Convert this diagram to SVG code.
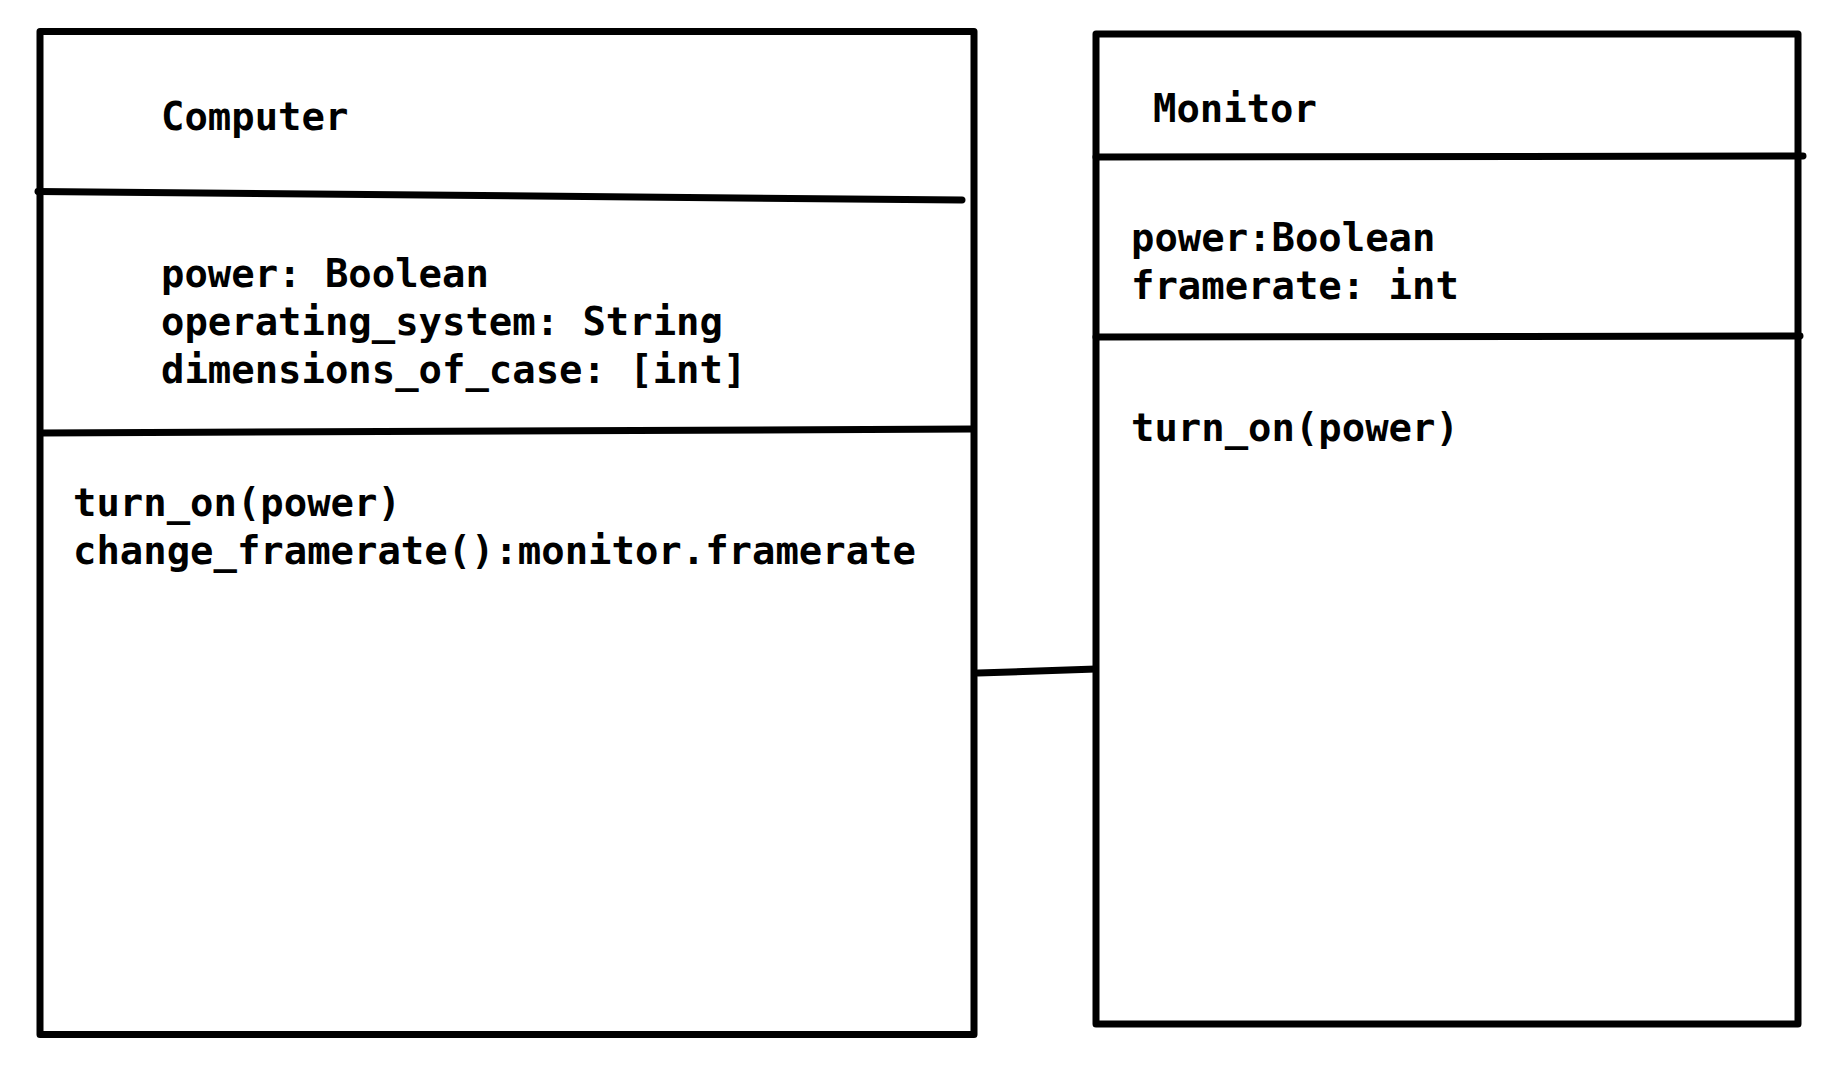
<svg xmlns="http://www.w3.org/2000/svg" width="1834" height="1076" viewBox="0 0 1834 1076">
<style>
.box{fill:#fff;stroke:#000;stroke-width:7;stroke-linejoin:round}
.ln{fill:none;stroke:#000;stroke-width:7;stroke-linecap:round}
.t{font-family:"DejaVu Sans Mono","Liberation Mono",monospace;font-size:38.9px;font-weight:bold;fill:#000}
</style>
<rect width="1834" height="1076" fill="#fff"/>
<g id="connectors">
<path class="ln" d="M978 673 L1096 669"/>
</g>
<g id="computer">
<rect class="box" x="40" y="31.5" width="934" height="1003"/>
<path class="ln" d="M38 191.5 L962 200"/>
<path class="ln" d="M41 433 L973 429"/>
<text class="t" x="161" y="130">Computer</text>
<text class="t" x="161" y="287">power: Boolean</text>
<text class="t" x="161" y="335">operating_system: String</text>
<text class="t" x="161" y="383">dimensions_of_case: [int]</text>
<text class="t" x="73" y="516">turn_on(power)</text>
<text class="t" x="73" y="564">change_framerate():monitor.framerate</text>
</g>
<g id="monitor">
<rect class="box" x="1096" y="34" width="702" height="990"/>
<path class="ln" d="M1096 157 L1803 156"/>
<path class="ln" d="M1096 337 L1800 336"/>
<text class="t" x="1131" y="122" dx="22">Monitor</text>
<text class="t" x="1131" y="251">power:Boolean</text>
<text class="t" x="1131" y="299">framerate: int</text>
<text class="t" x="1131" y="441">turn_on(power)</text>
</g>
</svg>
